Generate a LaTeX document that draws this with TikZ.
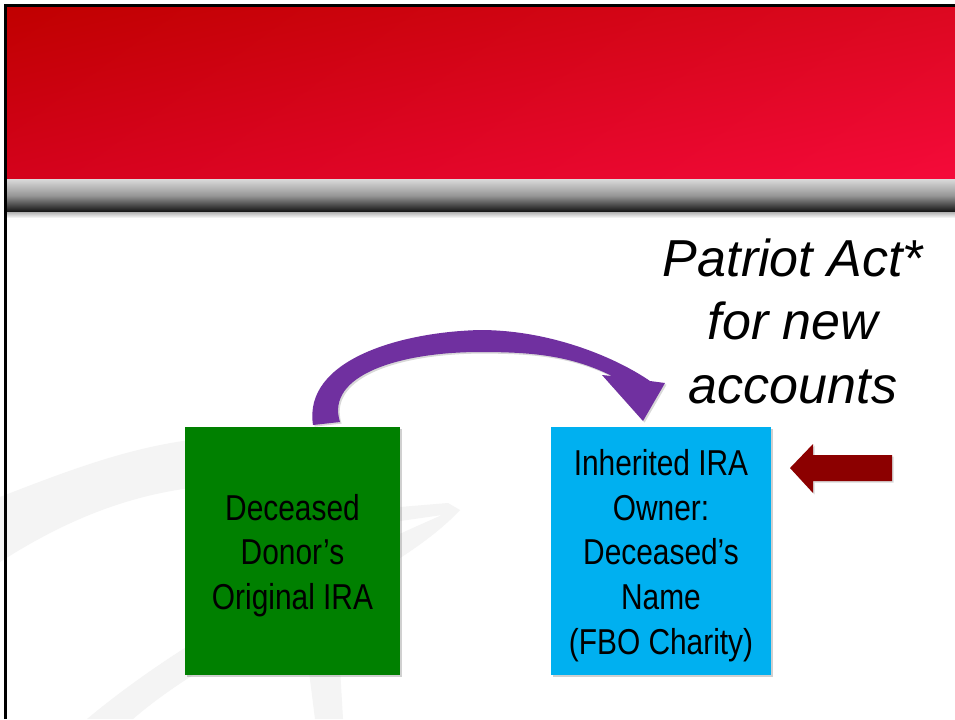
\documentclass[tikz,border=0pt]{standalone}
\usepackage{fontspec}
\setmainfont{Liberation Sans}
\newfontfamily\narrowfont{Liberation Sans}[FakeStretch=0.83]
\usetikzlibrary{shadows,shadings}
\definecolor{redUL}{RGB}{192,0,0}
\definecolor{redUR}{RGB}{220,8,32}
\definecolor{redLL}{RGB}{212,2,28}
\definecolor{redLR}{RGB}{245,10,58}
\definecolor{grayT}{RGB}{218,218,218}
\definecolor{grayM}{RGB}{150,150,150}
\definecolor{grayB}{RGB}{18,18,18}
\definecolor{boxgreen}{RGB}{0,128,0}
\definecolor{boxblue}{RGB}{0,176,240}
\definecolor{arrowpurple}{RGB}{112,48,160}
\definecolor{arrowred}{RGB}{140,0,0}
\definecolor{wmark}{RGB}{244,244,244}
\begin{document}
\begin{tikzpicture}[x=0.75pt,y=-0.75pt,
  boxstyle/.style={rectangle, minimum height=186pt, inner sep=0pt,
    drop shadow={shadow xshift=1.5pt,shadow yshift=-1.5pt,opacity=0.3,fill=black!60}},
  boxtext/.style={align=center, inner sep=0pt, yshift=-3.5pt,
    font=\narrowfont\fontsize{27}{33.5}\selectfont, text=black},
  blockshadow/.style={drop shadow={shadow xshift=1.2pt,shadow yshift=-1.2pt,opacity=0.25,fill=black!60}}]
\useasboundingbox (0,0) rectangle (955,719);
\fill[white] (0,0) rectangle (955,719);
% watermark
\fill[wmark] (0,497) .. controls (90,462) and (160,436) .. (250,436)
  .. controls (330,436) and (370,505) .. (400,507) -- (448,503) -- (460,510)
  .. controls (390,585) and (230,635) .. (133,719) -- (87,719)
  .. controls (200,625) and (340,560) .. (442,515) -- (400,521)
  .. controls (330,480) and (260,478) .. (183,489)
  .. controls (110,500) and (50,530) .. (0,562) -- cycle;
\fill[wmark] (300,600) -- (336,600) -- (343,719) -- (315,719) -- cycle;
% header
\shade[upper left=redUL, upper right=redUR, lower left=redLL, lower right=redLR] (7,7) rectangle (955,179);
\shade[top color=grayT, bottom color=grayB, middle color=grayM] (7,179) rectangle (955,212);
\shade[top color=black!30, bottom color=white] (7,212) rectangle (955,218);
\draw[black, line width=2.4pt] (5.5,719) -- (5.5,5.5) -- (955,5.5);
% boxes
\node[boxstyle, fill=boxgreen, minimum width=161.25pt,
  label={[boxtext]center:{Deceased\\Donor’s\\Original IRA}}] (orig) at (292.5,551) {};
\node[boxstyle, fill=boxblue, minimum width=165pt,
  label={[boxtext]center:{Inherited IRA\\Owner:\\Deceased’s\\Name\\(FBO Charity)}}] (inh) at (661,551) {};
% curved purple arrow
\fill[arrowpurple, blockshadow] (313,425) .. controls (303,360) and (400,332) .. (480,330)
  .. controls (550,330) and (615,357) .. (650,381) -- (665,383) -- (643,421) -- (602,375) -- (612,376)
  .. controls (570,355) and (530,352) .. (480,352)
  .. controls (400,352) and (325,375) .. (340,422) -- cycle;
% red block arrow
\fill[arrowred, blockshadow] (790,468) -- (813,444) -- (813,455) -- (892,455) -- (892,481)
  -- (813,481) -- (813,493) -- cycle;
% Patriot Act text
\node[align=center, font=\itshape\fontsize{39}{47.6}\selectfont, inner sep=0pt] (patriot) at (793,321)
  {Patriot Act*\\for new\\accounts};
\end{tikzpicture}
\end{document}
